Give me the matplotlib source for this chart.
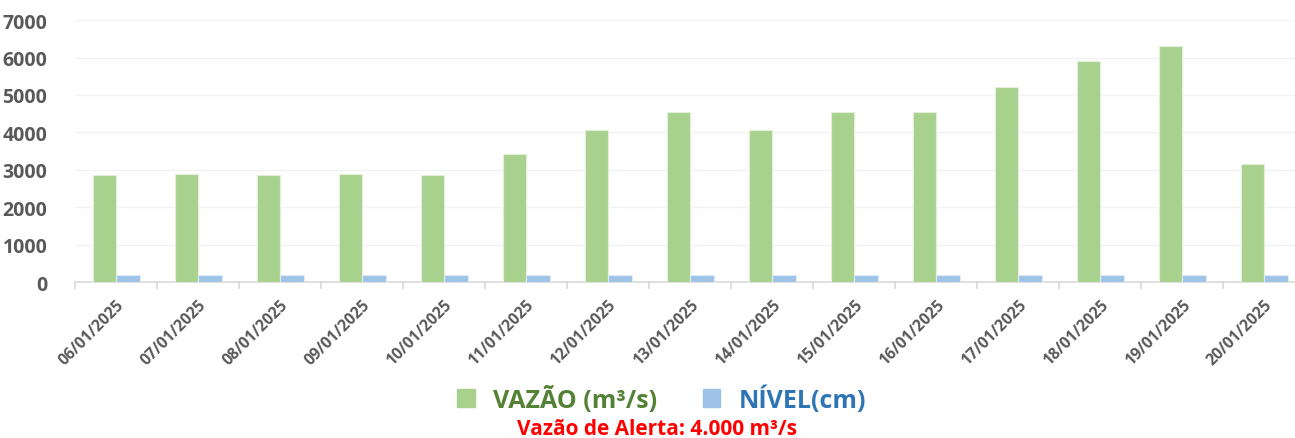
import numpy as np
import matplotlib.pyplot as plt
from matplotlib.patches import Patch

plt.rcParams['font.family'] = ['Open Sans', 'DejaVu Sans']

# Daily readings
datas = ['06/01/2025', '07/01/2025', '08/01/2025', '09/01/2025', '10/01/2025',
         '11/01/2025', '12/01/2025', '13/01/2025', '14/01/2025', '15/01/2025',
         '16/01/2025', '17/01/2025', '18/01/2025', '19/01/2025', '20/01/2025']
vazao = [2860, 2880, 2875, 2900, 2870, 3420, 4060, 4540, 4060, 4540,
         4540, 5200, 5920, 6300, 3145]
nivel = [200, 200, 200, 200, 200, 200, 200, 200, 200, 200,
         200, 200, 200, 200, 200]

verde = '#A9D18E'
azul = '#9DC3E6'
cinza = '#595959'

fig = plt.figure(figsize=(12.95, 4.39), dpi=100)
ax = fig.add_axes([0.058, 0.355, 0.950, 0.597])

x = np.arange(len(datas))
w = 0.287
ax.bar(x - w / 2, vazao, w, color=verde, edgecolor='#E2F0D9', linewidth=0.8, zorder=3)
ax.bar(x + w / 2, nivel, w, color=azul, edgecolor='#DEEBF7', linewidth=0.8, zorder=3)

ax.set_xlim(-0.5, len(datas) - 0.5)
ax.set_ylim(0, 7000)
ax.set_yticks(range(0, 7001, 1000))
ax.grid(axis='y', color='#F2F2F2', linewidth=1, zorder=0)

for s in ['top', 'right', 'left']:
    ax.spines[s].set_visible(False)
ax.spines['bottom'].set_color('#D9D9D9')
ax.spines['bottom'].set_linewidth(1.2)

ax.set_xticks(x)
ax.set_xticklabels(datas, rotation=45, ha='right', rotation_mode='anchor',
                   fontsize=11.3, fontweight='bold', color=cinza)
ax.set_xticks(np.arange(-0.5, len(datas), 1), minor=True)
ax.tick_params(axis='x', which='major', length=0, pad=10)
ax.tick_params(axis='x', which='minor', length=5, color='#D9D9D9', width=1.2)
ax.tick_params(axis='y', length=0, pad=20)
for lbl in ax.get_yticklabels():
    lbl.set_fontsize(14)
    lbl.set_fontweight('bold')
    lbl.set_color(cinza)

# Legend and alert note
handles = [Patch(color=verde), Patch(color=azul)]
leg = fig.legend(handles, ['VAZÃO (m³/s)', 'NÍVEL(cm)'], ncol=2, frameon=False,
                 loc='center', bbox_to_anchor=(0.511, 0.089),
                 prop={'size': 18, 'weight': 'bold'},
                 handlelength=0.7, handleheight=0.7, columnspacing=1.8, handletextpad=0.75)
for txt, c in zip(leg.get_texts(), ['#548235', '#2E75B6']):
    txt.set_color(c)

fig.text(0.507, 0.022, 'Vazão de Alerta: 4.000 m³/s', color='#FF0000',
         fontsize=15, fontweight='bold', ha='center', va='center')

fig.savefig('out.png', dpi=100)
